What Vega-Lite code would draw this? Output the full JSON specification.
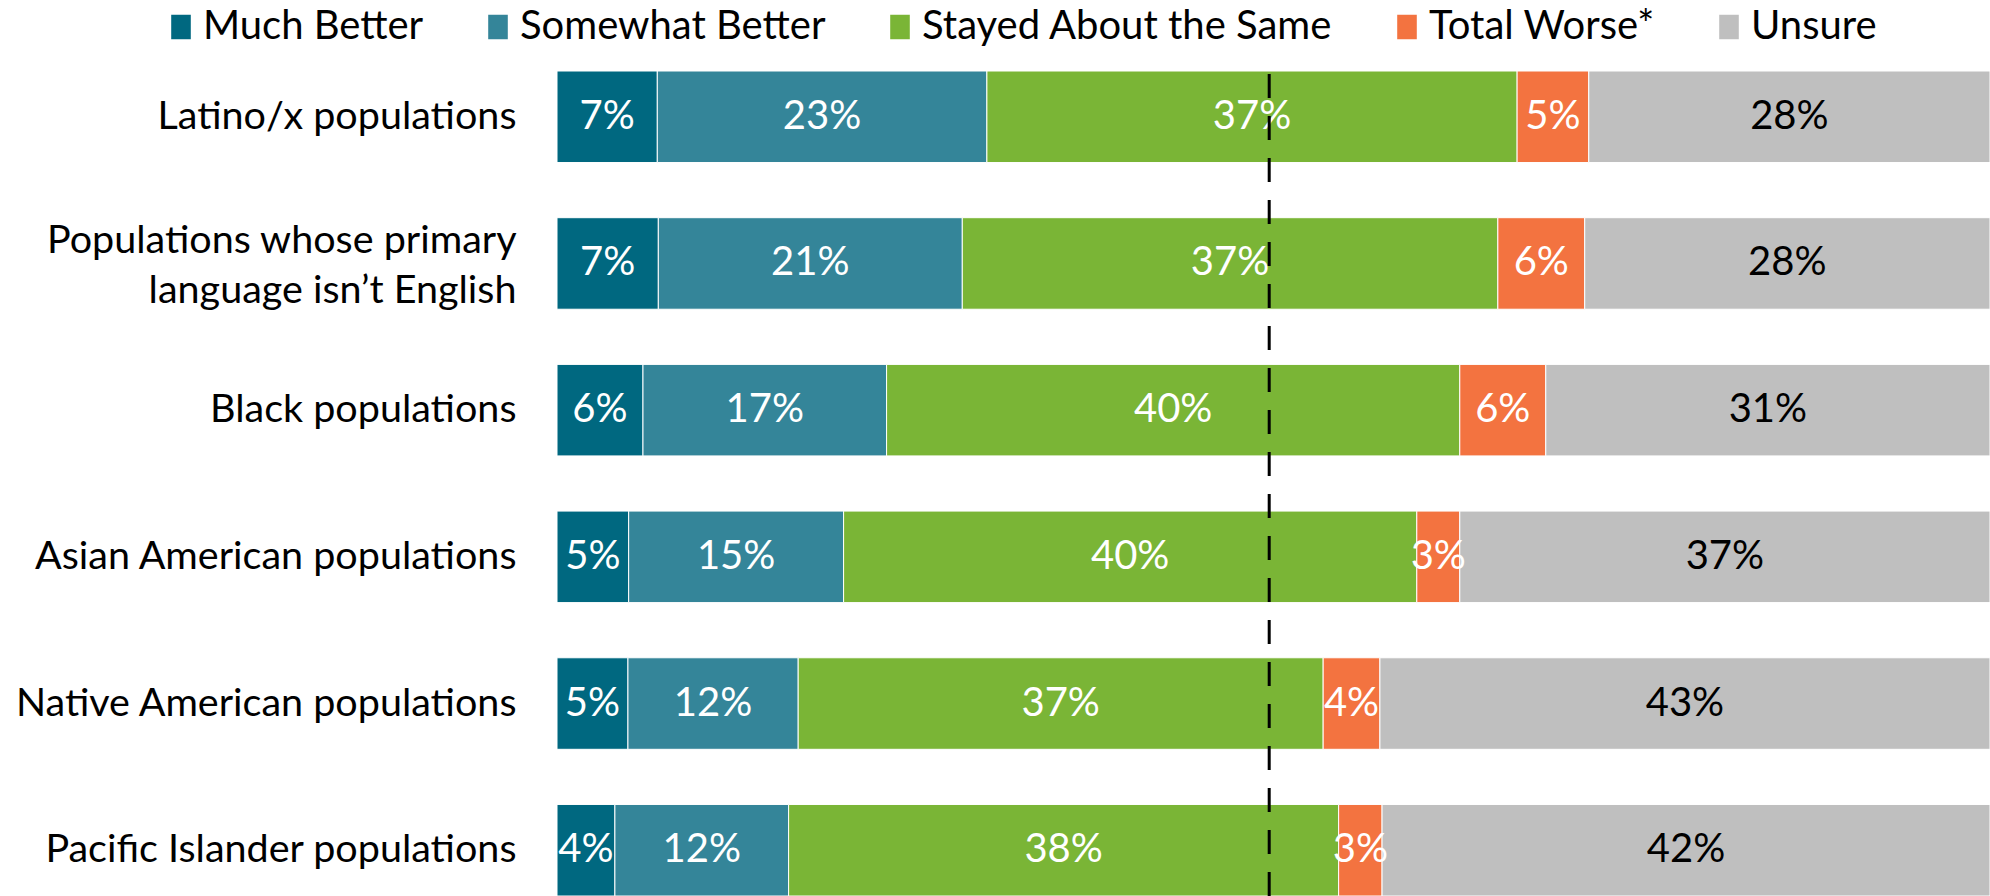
{
  "$schema": "https://vega.github.io/schema/vega-lite/v6.json",
  "width": 1433,
  "height": 825,
  "autosize": {"type": "none"},
  "padding": {"left": 557, "top": 71, "right": 0, "bottom": 0},
  "background": "white",
  "config": {"view": {"stroke": null}, "font": "Lato"},
  "data": {"values": [
    {"group": "Latino/x populations", "response": "Much Better", "pct": 7},
    {"group": "Latino/x populations", "response": "Somewhat Better", "pct": 23},
    {"group": "Latino/x populations", "response": "Stayed About the Same", "pct": 37},
    {"group": "Latino/x populations", "response": "Total Worse*", "pct": 5},
    {"group": "Latino/x populations", "response": "Unsure", "pct": 28},
    {"group": "Populations whose primary language isn’t English", "response": "Much Better", "pct": 7},
    {"group": "Populations whose primary language isn’t English", "response": "Somewhat Better", "pct": 21},
    {"group": "Populations whose primary language isn’t English", "response": "Stayed About the Same", "pct": 37},
    {"group": "Populations whose primary language isn’t English", "response": "Total Worse*", "pct": 6},
    {"group": "Populations whose primary language isn’t English", "response": "Unsure", "pct": 28},
    {"group": "Black populations", "response": "Much Better", "pct": 6},
    {"group": "Black populations", "response": "Somewhat Better", "pct": 17},
    {"group": "Black populations", "response": "Stayed About the Same", "pct": 40},
    {"group": "Black populations", "response": "Total Worse*", "pct": 6},
    {"group": "Black populations", "response": "Unsure", "pct": 31},
    {"group": "Asian American populations", "response": "Much Better", "pct": 5},
    {"group": "Asian American populations", "response": "Somewhat Better", "pct": 15},
    {"group": "Asian American populations", "response": "Stayed About the Same", "pct": 40},
    {"group": "Asian American populations", "response": "Total Worse*", "pct": 3},
    {"group": "Asian American populations", "response": "Unsure", "pct": 37},
    {"group": "Native American populations", "response": "Much Better", "pct": 5},
    {"group": "Native American populations", "response": "Somewhat Better", "pct": 12},
    {"group": "Native American populations", "response": "Stayed About the Same", "pct": 37},
    {"group": "Native American populations", "response": "Total Worse*", "pct": 4},
    {"group": "Native American populations", "response": "Unsure", "pct": 43},
    {"group": "Pacific Islander populations", "response": "Much Better", "pct": 4},
    {"group": "Pacific Islander populations", "response": "Somewhat Better", "pct": 12},
    {"group": "Pacific Islander populations", "response": "Stayed About the Same", "pct": 38},
    {"group": "Pacific Islander populations", "response": "Total Worse*", "pct": 3},
    {"group": "Pacific Islander populations", "response": "Unsure", "pct": 42}
  ]},
  "layer": [
    {
      "transform": [
        {"calculate": "indexof(['Much Better','Somewhat Better','Stayed About the Same','Total Worse*','Unsure'], datum.response)", "as": "ord"},
        {"stack": "pct", "groupby": ["group"], "sort": [{"field": "ord", "order": "ascending"}], "offset": "normalize", "as": ["x0", "x1"]}
      ],
      "mark": {"type": "bar", "stroke": "white", "strokeWidth": 1},
      "encoding": {
        "y": {"field": "group", "type": "nominal", "sort": null,
          "scale": {"paddingInner": 0.376, "paddingOuter": 0},
          "axis": {"title": null, "domain": false, "ticks": false, "labelPadding": 41, "labelFontSize": 39.5, "labelColor": "black", "labelLimit": 0, "labelLineHeight": 50,
            "labelOffset": {"condition": {"test": "datum.label == 'Populations whose primary language isn’t English'", "value": -22}, "value": 0},
            "labelExpr": "datum.label == 'Populations whose primary language isn’t English' ? ['Populations whose primary', 'language isn’t English'] : datum.label"}},
        "x": {"field": "x0", "type": "quantitative", "scale": {"domain": [0, 1]}, "axis": null},
        "x2": {"field": "x1"},
        "color": {"field": "response", "type": "nominal",
          "scale": {"domain": ["Much Better", "Somewhat Better", "Stayed About the Same", "Total Worse*", "Unsure"],
                    "range": ["#006880", "#348599", "#7AB536", "#F37340", "#BFBFBF"]},
          "legend": {"title": null, "orient": "none", "direction": "horizontal", "legendX": -396, "legendY": -64,
            "labelFontSize": 40, "labelColor": "black", "labelOffset": 2, "columnPadding": 54, "labelLimit": 0,
            "symbolType": "M-0.8,-1L0.8,-1L0.8,1L-0.8,1Z", "symbolSize": 600, "symbolStrokeWidth": 0}}
      }
    },
    {
      "transform": [
        {"calculate": "indexof(['Much Better','Somewhat Better','Stayed About the Same','Total Worse*','Unsure'], datum.response)", "as": "ord"},
        {"stack": "pct", "groupby": ["group"], "sort": [{"field": "ord", "order": "ascending"}], "offset": "normalize", "as": ["x0", "x1"]},
        {"calculate": "(datum.x0 + datum.x1) / 2", "as": "xm"},
        {"calculate": "datum.pct + '%'", "as": "label"}
      ],
      "mark": {"type": "text", "fontSize": 40, "baseline": "middle", "align": "center"},
      "encoding": {
        "y": {"field": "group", "type": "nominal", "sort": null},
        "x": {"field": "xm", "type": "quantitative"},
        "text": {"field": "label"},
        "color": {"condition": {"test": "datum.response === 'Unsure'", "value": "black"}, "value": "white"}
      }
    },
    {
      "data": {"values": [{"ref": 0.497}]},
      "mark": {"type": "rule", "color": "black", "strokeWidth": 3, "strokeDash": [24, 18], "y": 3, "y2": {"expr": "height"}},
      "encoding": {"x": {"field": "ref", "type": "quantitative"}}
    }
  ]
}
